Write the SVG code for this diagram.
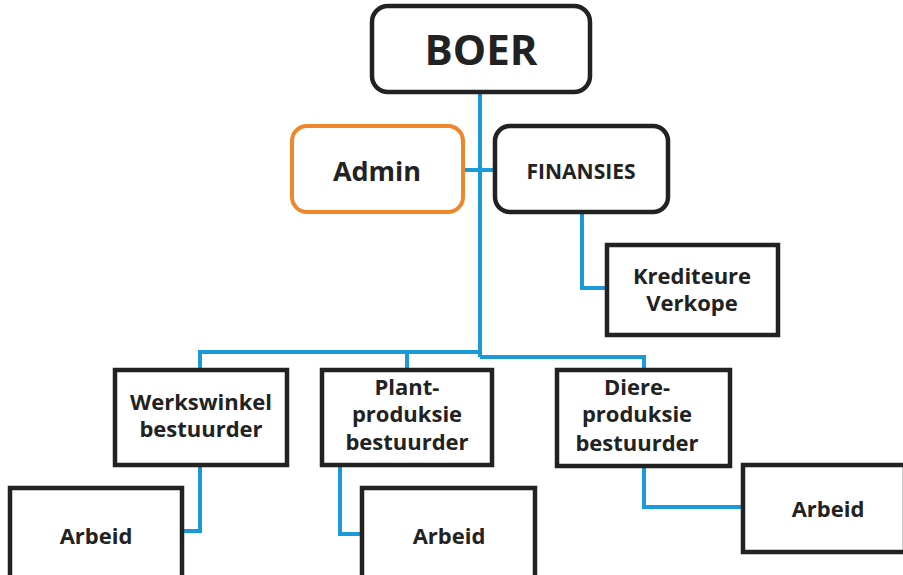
<svg xmlns="http://www.w3.org/2000/svg" width="903" height="575" viewBox="0 0 903 575">
<style>
.box{fill:#fff;stroke:#222;stroke-width:4.5}
.adm{fill:#fff;stroke:#f0862a;stroke-width:4}
.ln{fill:none;stroke:#1b9ad9;stroke-width:4}
text{font-family:"Open Sans","DejaVu Sans",sans-serif;font-weight:bold;fill:#222;text-anchor:middle}
.t22{font-size:22px}
</style>
<rect width="903" height="575" fill="#fff"/>
<g id="connectors">
<path class="ln" d="M480,92 V357"/>
<path class="ln" d="M463,170 H495"/>
<path class="ln" d="M200,370 V352 H480"/>
<path class="ln" d="M407,370 V352"/>
<path class="ln" d="M480,357 H644 V370"/>
<path class="ln" d="M582,212 V288 H607"/>
<path class="ln" d="M200,465 V531 H182"/>
<path class="ln" d="M340,465 V534 H362"/>
<path class="ln" d="M644,466 V507 H743"/>
</g>
<g id="boer">
<rect class="box" x="372" y="6" width="218" height="86" rx="16"/>
<text x="481" y="65" font-size="42">BOER</text>
</g>
<g id="admin">
<rect class="adm" x="292" y="126" width="171" height="86" rx="15"/>
<text x="377" y="181" font-size="27">Admin</text>
</g>
<g id="finansies">
<rect class="box" x="495" y="126" width="173" height="86" rx="15"/>
<text x="581" y="179" font-size="21">FINANSIES</text>
</g>
<g id="krediteure">
<rect class="box" x="607" y="245" width="171" height="90"/>
<text class="t22" x="692" y="284">Krediteure</text>
<text class="t22" x="692" y="311">Verkope</text>
</g>
<g id="werkswinkel">
<rect class="box" x="115" y="370" width="172" height="95"/>
<text class="t22" x="201" y="410">Werkswinkel</text>
<text class="t22" x="201" y="437">bestuurder</text>
</g>
<g id="plant">
<rect class="box" x="322" y="370" width="170" height="95"/>
<text class="t22" x="407" y="395">Plant-</text>
<text class="t22" x="407" y="422">produksie</text>
<text class="t22" x="407" y="450">bestuurder</text>
</g>
<g id="diere">
<rect class="box" x="557" y="370" width="173" height="96"/>
<text class="t22" x="637" y="395">Diere-</text>
<text class="t22" x="637" y="422">produksie</text>
<text class="t22" x="637" y="451">bestuurder</text>
</g>
<g id="arbeid1">
<rect class="box" x="10" y="488" width="172" height="92"/>
<text class="t22" x="96" y="544">Arbeid</text>
</g>
<g id="arbeid2">
<rect class="box" x="362" y="488" width="173" height="92"/>
<text class="t22" x="449" y="544">Arbeid</text>
</g>
<g id="arbeid3">
<rect class="box" x="743" y="465" width="162" height="87"/>
<text class="t22" x="828" y="517">Arbeid</text>
</g>
</svg>
